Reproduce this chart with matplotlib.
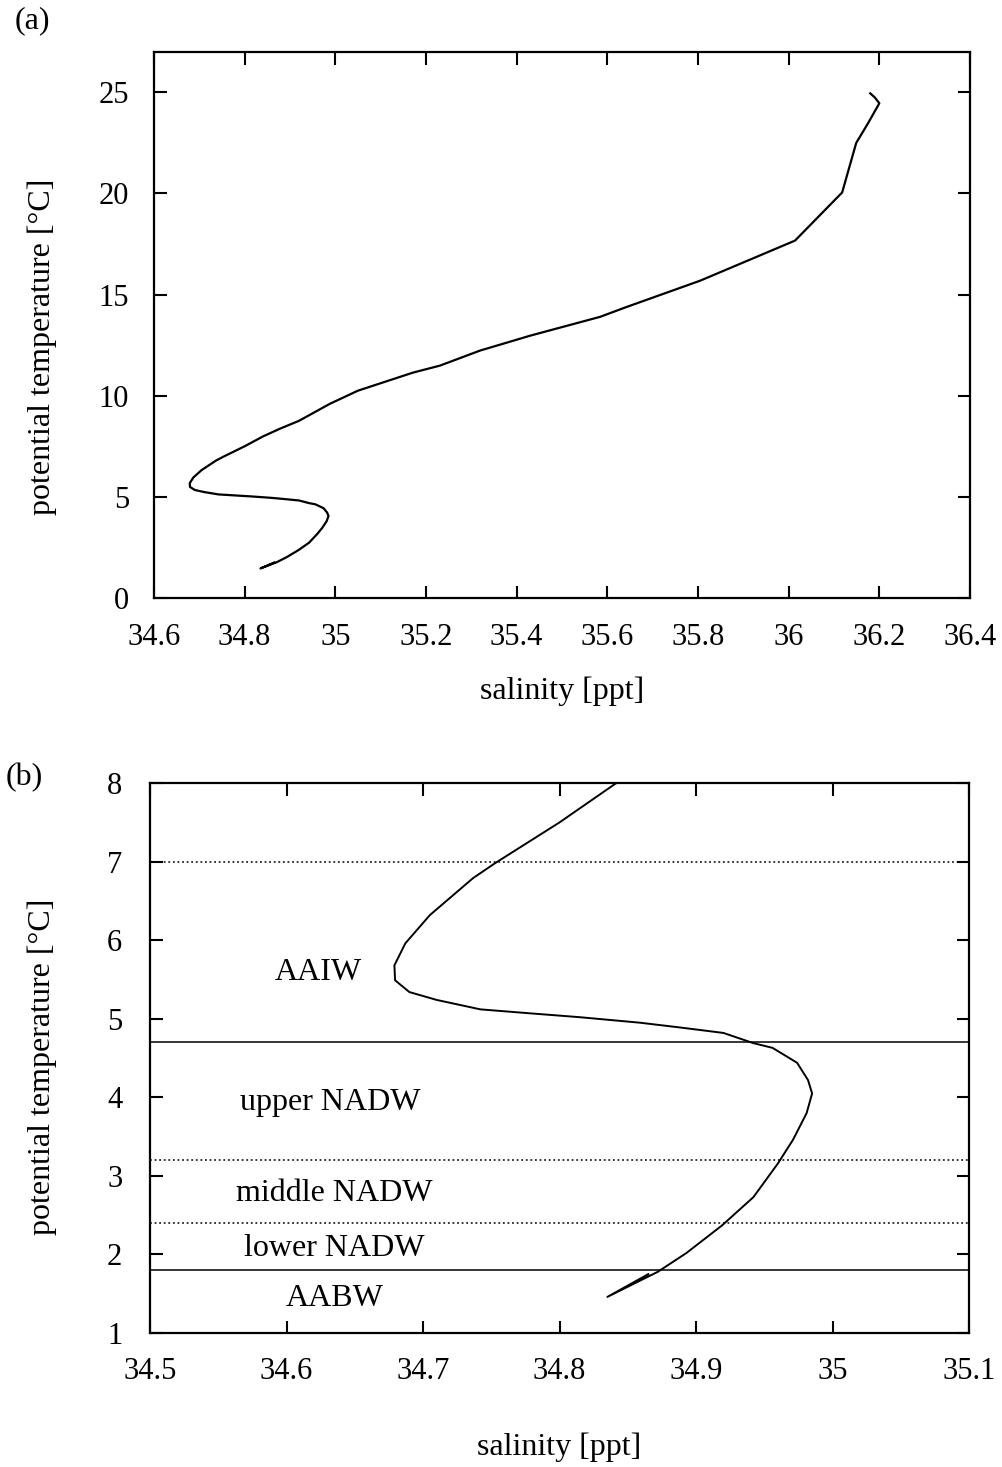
import matplotlib
matplotlib.use("Agg")
import matplotlib.pyplot as plt
import numpy as np
from matplotlib.ticker import FormatStrFormatter

# theta-S profile, from the bottom water up to the surface
salinity = [34.865, 34.835, 34.872, 34.893, 34.919, 34.942, 34.960, 34.971,
            34.981, 34.985, 34.982, 34.974, 34.956, 34.942, 34.920, 34.888,
            34.859, 34.815, 34.778, 34.742, 34.710, 34.690, 34.6795, 34.679,
            34.687, 34.705, 34.7366, 34.7527, 34.800, 34.8407, 34.878, 34.92,
            34.988, 35.05, 35.171, 35.231, 35.319, 35.43, 35.584, 35.639,
            35.805, 36.014, 36.118, 36.149, 36.175, 36.20, 36.19, 36.18]
theta = [1.75, 1.46, 1.78, 2.02, 2.37, 2.73, 3.16, 3.46,
         3.80, 4.05, 4.22, 4.44, 4.63, 4.69, 4.82, 4.89,
         4.95, 5.02, 5.07, 5.12, 5.24, 5.34, 5.49, 5.68,
         5.96, 6.32, 6.79, 6.98, 7.50, 7.99, 8.37, 8.76,
         9.60, 10.25, 11.14, 11.49, 12.23, 12.97, 13.90, 14.36,
         15.69, 17.67, 20.05, 22.50, 23.47, 24.46, 24.75, 24.95]

# water mass boundaries in panel (b)
bound_theta = [7.0, 4.7, 3.2, 2.4, 1.8]
bound_solid = [False, True, False, False, True]

mass_names = ["AAIW", "upper NADW", "middle NADW", "lower NADW", "AABW"]
mass_sal = [34.623, 34.632, 34.635, 34.635, 34.635]
mass_theta = [5.59, 3.93, 2.78, 2.08, 1.445]

xticks_a = np.arange(34.6, 36.41, 0.2)
yticks_a = [0, 5, 10, 15, 20, 25]
xticks_b = np.arange(34.5, 35.11, 0.1)
yticks_b = [1, 2, 3, 4, 5, 6, 7, 8]

plt.rcParams['font.family'] = ['Liberation Serif', 'DejaVu Serif']

fig = plt.figure(figsize=(10.03, 14.67), dpi=100)
ax1 = fig.add_axes([0.1535, 0.5924, 0.8136, 0.3722])
ax2 = fig.add_axes([0.1496, 0.0913, 0.8166, 0.3749])


def style(ax, xt, yt, xpad, ypad):
    ax.set_xticks(xt)
    ax.set_yticks(yt)
    ax.xaxis.set_major_formatter(FormatStrFormatter('%g'))
    ax.tick_params(direction='in', length=9, width=1.5, top=True, right=True,
                   labelsize=22)
    ax.tick_params(axis='x', pad=xpad)
    ax.tick_params(axis='y', pad=ypad)
    for s in ax.spines.values():
        s.set_linewidth(1.6)


ax1.plot(salinity, theta, color='black', lw=1.6)
ax1.set_xlim(34.6, 36.4)
ax1.set_ylim(0, 27)
style(ax1, xticks_a, yticks_a, 18, 18)
ax1.set_xlabel('salinity [ppt]', fontsize=23)
ax1.set_ylabel('potential temperature [°C]', fontsize=23)
ax1.xaxis.set_label_coords(0.5, -0.143)
ax1.yaxis.set_label_coords(-0.119, 0.46)

ax2.plot(salinity, theta, color='black', lw=1.4)
for t, solid in zip(bound_theta, bound_solid):
    if solid:
        ax2.axhline(t, color='black', lw=1.1)
    else:
        ax2.axhline(t, color='black', lw=1.1, ls=(0, (1.2, 1.8)))
for name, s, t in zip(mass_names, mass_sal, mass_theta):
    ax2.text(s, t, name, fontsize=23, ha='center', va='center')
ax2.set_xlim(34.5, 35.1)
ax2.set_ylim(1, 8)
style(ax2, xticks_b, yticks_b, 17, 20)
ax2.set_xlabel('salinity [ppt]', fontsize=23)
ax2.set_ylabel('potential temperature [°C]', fontsize=23)
ax2.xaxis.set_label_coords(0.5, -0.18)
ax2.yaxis.set_label_coords(-0.114, 0.485)

fig.text(0.032, 0.986, '(a)', fontsize=23, ha='center', va='center')
fig.text(0.024, 0.470, '(b)', fontsize=23, ha='center', va='center')

fig.savefig('out.png', dpi=100)
